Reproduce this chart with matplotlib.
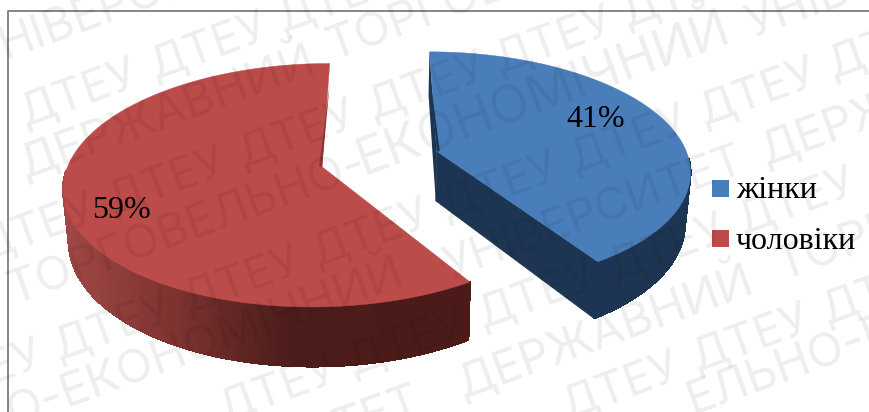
import numpy as np
import matplotlib
matplotlib.use("Agg")
import matplotlib.pyplot as plt
from matplotlib.collections import PolyCollection
from matplotlib.colors import LinearSegmentedColormap
from matplotlib.patches import Polygon, Rectangle

# chart data
categories = ["жінки", "чоловіки"]
shares = [41, 59]
top_colors = ["#4a7ebb", "#bc4c4a"]
label_pos = [(596, 119), (122, 210)]

# faint stamp: long words as text, x, y of the baseline start, font size
stamp_words = [
    ("НІВЕРСИТЕТ", 5, 59, 34),
    ("ДЕРЖАВНИЙ", 25, 178, 34),
    ("ТОРГОВЕЛЬНО", 333, 60, 34),
    ("ТОРГОВЕЛЬНО-", 14, 304, 34),
    ("ЕКОНОМІЧНИЙ", 363, 176, 37),
    ("УНІВЕРСИТЕТ", 752, 38, 34),
    ("О-ЕКОНОМІЧНИЙ", 12, 427, 34),
    ("УНІВЕРСИТЕТ", 450, 279, 33),
    ("ДЕРЖАВНИЙ", 766, 165, 34),
    ("ТЕТ", 340, 442, 34),
    ("ДЕРЖАВНИЙ", 463, 398, 34),
    ("ТОРГОВЕЛЬНО", 783, 280, 34),
    ("ЕЛЬНО-ЕКОНОМІЧНИЙ", 693, 414, 34),
]
# short rows: height where the row meets x = 0, and where each word starts
short_rows = [
    (135, [25, 155, 283]),
    (255, [-17, 113, 243, 373, 500, 627]),
    (381, [-70, 59, 188, 317, 446, 575, 704, 833]),
    (504, [224, 353, 483, 613, 743, 873]),
    (625, [567, 697, 827]),
]
SHORT_WORD = "ДТЕУ"

# perspective of the pie plane, in pixels
X0, Y0 = 380, 159
SCALE_X, SCALE_Y = 252, 116.6
PERSP = 0.15
EXPLODE = 0.237
DEPTH = 50
SHRINK = 0.982


def project(x, y, down=False):
    f = 1 / (1 + PERSP * y)
    sx = X0 + SCALE_X * x * f
    sy = Y0 - SCALE_Y * y * f
    if down:
        sx = X0 + (sx - X0) * SHRINK
        sy = sy + DEPTH * f
    return sx, sy


def rim(t1, t2, cx, cy, down=False, n=160):
    t = np.linspace(t1, t2, n)
    return project(cx + np.sin(t), cy + np.cos(t), down)


def stamp(ax, text, x, y, size):
    ax.text(x, y, text, family="Inter", fontsize=size, color="black", alpha=0.07,
            rotation=20, rotation_mode="anchor", ha="left", va="baseline", zorder=10,
            clip_on=True)


fig = plt.figure(figsize=(8.7, 4.12), dpi=100, facecolor="white")
ax = fig.add_axes([0, 0, 1, 1])
ax.set_xlim(0, 870)
ax.set_ylim(412, 0)
ax.axis("off")

# frame, open on the right and bottom
ax.plot([8.5, 8.5, 870], [412, 10.5, 10.5], color="#858585", lw=1.4, zorder=1)

red_side = LinearSegmentedColormap.from_list("red_side", ["#a04845", "#7e3331", "#4c1e1b", "#4a1b19"])
blue_side = LinearSegmentedColormap.from_list("blue_side", ["#1d3552", "#1d3552"])

angles = 2 * np.pi * np.cumsum([0] + shares) / sum(shares)
cut = angles[1]
mid_blue = cut / 2
centres = [
    (EXPLODE * np.sin(mid_blue), EXPLODE * np.cos(mid_blue)),
    (-EXPLODE * np.sin(mid_blue), -EXPLODE * np.cos(mid_blue)),
]
spans = [(0, cut), (cut, 2 * np.pi)]
cmaps = [blue_side, red_side]

for i, ((t1, t2), (cx, cy)) in enumerate(zip(spans, centres)):
    z = 3 + i
    tx, ty = rim(t1, t2, cx, cy)
    bx, by = rim(t1, t2, cx, cy, down=True)
    t = np.linspace(t1, t2, len(tx))
    apex = project(cx, cy)
    apex_low = project(cx, cy, down=True)

    # straight cut faces sit under the top of the slice
    if i == 0:
        ax.add_patch(Polygon([apex, (tx[-1], ty[-1]), (bx[-1], by[-1]), apex_low],
                             fc="#1d3552", ec="#1d3552", lw=0.5, zorder=z))
        ax.add_patch(Polygon([apex, (tx[0], ty[0]), (bx[0], by[0]), apex_low],
                             fc="#1d3552", ec="none", zorder=z))

    # outer wall as thin quads, front part only, so the shade can run along it
    keep = [k for k in range(len(tx) - 1) if np.cos(t[k]) < -0.05]
    quads = [[(tx[k], ty[k]), (tx[k + 1], ty[k + 1]), (bx[k + 1], by[k + 1]), (bx[k], by[k])]
             for k in keep]
    pos = np.clip((tx[keep] - 60) / (400 - 60), 0, 1)
    shade = cmaps[i](pos)
    ax.add_collection(PolyCollection(quads, facecolors=shade, edgecolors=shade, linewidths=0.8,
                                     antialiaseds=False, zorder=z))

    # top of the slice
    pts = np.column_stack([np.r_[apex[0], tx], np.r_[apex[1], ty]])
    ax.add_patch(Polygon(pts, fc=top_colors[i], ec=top_colors[i], lw=0.3, zorder=z + 0.5))

# dark slivers along the inner edges of the slices
bx0, by0 = rim(0, 0.001, *centres[0], n=2)
ba = project(*centres[0])
ax.add_patch(Polygon([(bx0[0], by0[0] + 20), ba, (ba[0] + 3, ba[1])],
                     fc="#1d3552", ec="none", zorder=6))
rx0, ry0 = rim(2 * np.pi - 0.001, 2 * np.pi, *centres[1], n=2)
ra = project(*centres[1])
ax.add_patch(Polygon([(rx0[-1], ry0[-1] + 20), ra, (ra[0] - 3, ra[1])],
                     fc="#8a3634", ec="none", zorder=6))

# percentage labels
for v, (x, y) in zip(shares, label_pos):
    ax.text(x, y, f"{v}%", family="Liberation Serif", fontsize=23, color="black",
            ha="center", va="center", zorder=8)

# legend
for i, name in enumerate(categories):
    y = 180 + 50.3 * i
    ax.add_patch(Rectangle((712, y), 17, 16.5, fc=top_colors[i], ec="none", zorder=8))
    ax.text(736, y + 18.3, name, family="Liberation Serif", fontsize=23, color="black",
            ha="left", va="baseline", zorder=8)

# stamp across the whole sheet
for text, x, y, size in stamp_words:
    stamp(ax, text, x, y, size)
for c, starts in short_rows:
    for x in starts:
        stamp(ax, SHORT_WORD, x, c - 0.364 * x, 33)

fig.savefig("out.png", dpi=100)
